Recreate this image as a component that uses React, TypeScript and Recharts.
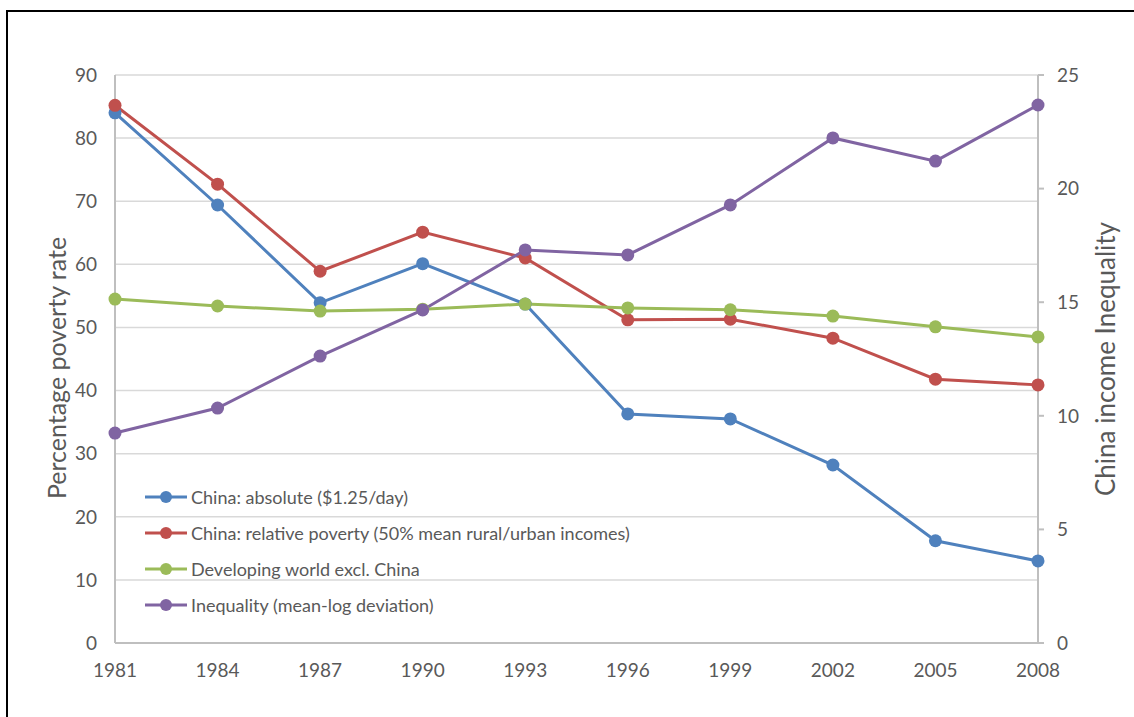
import React from 'react';
import { LineChart, Line, XAxis, YAxis, CartesianGrid, Legend } from 'recharts';

const years = ['1981', '1984', '1987', '1990', '1993', '1996', '1999', '2002', '2005', '2008'];
const chinaAbsolute = [84.0, 69.4, 53.9, 60.1, 53.7, 36.3, 35.5, 28.2, 16.2, 13.0];
const chinaRelative = [85.2, 72.7, 58.9, 65.1, 61.0, 51.2, 51.3, 48.3, 41.8, 40.9];
const developingWorld = [54.5, 53.4, 52.6, 52.9, 53.7, 53.1, 52.8, 51.8, 50.1, 48.5];
const inequality = [9.24, 10.34, 12.63, 14.66, 17.3, 17.08, 19.28, 22.23, 21.21, 23.68];
const leftTicks = [0, 10, 20, 30, 40, 50, 60, 70, 80, 90];
const rightTicks = [0, 5, 10, 15, 20, 25];

const seriesNames = [
  'China: absolute ($1.25/day)',
  'China: relative poverty (50% mean rural/urban incomes)',
  'Developing world excl. China',
  'Inequality (mean-log deviation)',
];
const colors = ['#4F81BD', '#C0504D', '#9BBB59', '#8064A2'];

const data = years.map((y, i) => ({
  year: y,
  abs: chinaAbsolute[i],
  rel: chinaRelative[i],
  dev: developingWorld[i],
  ineq: inequality[i],
}));

const FONT = 'Lato, "Open Sans", sans-serif';
const GRAY = '#595959';

const LegendContent = (props: any) => {
  const payload = props.payload || [];
  return (
    <div style={{ fontFamily: FONT }}>
      {payload.map((p: any, i: number) => (
        <div key={i} style={{ display: 'flex', alignItems: 'center', height: 36 }}>
          <svg width={42} height={16} style={{ marginRight: 4 }}>
            <line x1={0} y1={8} x2={42} y2={8} stroke={p.color} strokeWidth={3} />
            <circle cx={21} cy={8} r={6} fill={p.color} />
          </svg>
          <span style={{ color: GRAY, fontSize: 18, whiteSpace: 'nowrap' }}>{p.value}</span>
        </div>
      ))}
    </div>
  );
};

const makeTitle = (text: string, dx: number, dy: number, size: number) => (props: any) => {
  const vb = props.viewBox || {};
  const cx = vb.x + vb.width / 2 + dx;
  const cy = vb.y + vb.height / 2 + dy;
  return (
    <text
      x={cx}
      y={cy}
      transform={`rotate(-90, ${cx}, ${cy})`}
      textAnchor="middle"
      dominantBaseline="central"
      fill={GRAY}
      fontSize={size}
      fontFamily={FONT}
    >
      {text}
    </text>
  );
};

export default function App() {
  return (
    <div
      style={{
        position: 'absolute',
        left: 6,
        top: 10,
        width: 1128,
        height: 707,
        borderTop: '2px solid #000',
        borderLeft: '2px solid #000',
        background: '#fff',
        overflow: 'hidden',
      }}
    >
      <LineChart
        width={1120}
        height={700}
        data={data}
        margin={{ top: 63, right: 0, bottom: 0, left: 0 }}
        style={{ fontFamily: FONT }}
      >
        <CartesianGrid vertical={false} stroke="#D9D9D9" strokeWidth={1.5} yAxisId="left" />
        <XAxis
          dataKey="year"
          padding={{ left: 0, right: 0 }}
          tickLine={false}
          axisLine={{ stroke: '#BFBFBF', strokeWidth: 2 }}
          tick={{ fill: GRAY, fontSize: 19 }}
          tickSize={6}
          tickMargin={15}
          height={69}
          interval={0}
        />
        <YAxis
          yAxisId="left"
          domain={[0, 90]}
          ticks={leftTicks}
          width={107}
          tickLine={false}
          axisLine={{ stroke: '#BFBFBF', strokeWidth: 2 }}
          tick={{ fill: GRAY, fontSize: 19 }}
          tickSize={6}
          tickMargin={12}
          label={{ content: makeTitle('Percentage poverty rate', -6, 9, 25) }}
        />
        <YAxis
          yAxisId="right"
          orientation="right"
          domain={[0, 25]}
          ticks={rightTicks}
          width={90}
          tickLine={{ stroke: '#BFBFBF', strokeWidth: 2 }}
          axisLine={{ stroke: '#BFBFBF', strokeWidth: 2 }}
          tick={{ fill: GRAY, fontSize: 19 }}
          tickSize={6}
          tickMargin={13}
          label={{ content: makeTitle('China income Inequality', 22, 0, 26) }}
        />
        <Legend
          layout="horizontal"
          verticalAlign="middle"
          align="center"
          content={<LegendContent />}
          wrapperStyle={{ position: 'absolute', left: 137, top: 467, width: 600 }}
        />
        <Line yAxisId="left" dataKey="abs" name={seriesNames[0]} stroke={colors[0]} strokeWidth={3}
          dot={{ r: 6.5, fill: colors[0], stroke: colors[0], strokeWidth: 0 }} isAnimationActive={false} />
        <Line yAxisId="left" dataKey="rel" name={seriesNames[1]} stroke={colors[1]} strokeWidth={3}
          dot={{ r: 6.5, fill: colors[1], stroke: colors[1], strokeWidth: 0 }} isAnimationActive={false} />
        <Line yAxisId="left" dataKey="dev" name={seriesNames[2]} stroke={colors[2]} strokeWidth={3}
          dot={{ r: 6.5, fill: colors[2], stroke: colors[2], strokeWidth: 0 }} isAnimationActive={false} />
        <Line yAxisId="right" dataKey="ineq" name={seriesNames[3]} stroke={colors[3]} strokeWidth={3}
          dot={{ r: 6.5, fill: colors[3], stroke: colors[3], strokeWidth: 0 }} isAnimationActive={false} />
      </LineChart>
    </div>
  );
}
